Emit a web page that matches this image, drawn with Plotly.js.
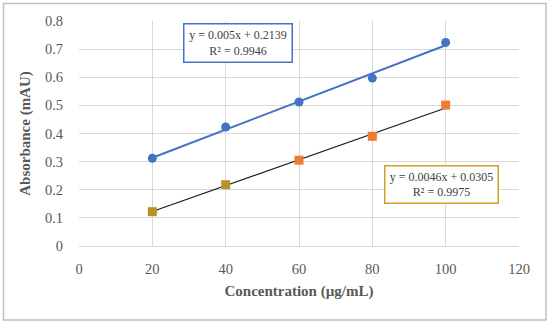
<!DOCTYPE html>
<html>
<head>
<meta charset="utf-8">
<script src="https://cdn.plot.ly/plotly-3.0.1.min.js"></script>
<style>
html,body{margin:0;padding:0;background:#fff;}
#chart{width:550px;height:324px;}
</style>
</head>
<body>
<div id="chart"></div>
<script>
// Data
const concentration = [20, 40, 60, 80, 100];
const seriesA = [0.312, 0.423, 0.512, 0.597, 0.724];
const seriesB = [0.122, 0.218, 0.305, 0.390, 0.501];
const seriesBColors = ['#B8902C', '#B8902C', '#ED7D31', '#ED7D31', '#ED7D31'];
// Trendline coefficients shown on the chart
const slopes = [0.005, 0.0046];
const intercepts = [0.2139, 0.0305];
const eqLabels = ['y = 0.005x + 0.2139<br>R² = 0.9946', 'y = 0.0046x + 0.0305<br>R² = 0.9975'];
const trendX = [20, 100];

const serif = '"Liberation Serif", "DejaVu Serif", serif';

const traces = [
  {x: trendX, y: trendX.map(v => slopes[0]*v + intercepts[0]), mode: 'lines',
   line: {color: '#4472C4', width: 2}, hoverinfo: 'skip'},
  {x: trendX, y: trendX.map(v => slopes[1]*v + intercepts[1]), mode: 'lines',
   line: {color: '#1a1a1a', width: 1.2}, hoverinfo: 'skip'},
  {x: concentration, y: seriesA, mode: 'markers',
   marker: {color: '#4472C4', size: 9, symbol: 'circle'}},
  {x: concentration, y: seriesB, mode: 'markers',
   marker: {color: seriesBColors, size: 9, symbol: 'square'}}
];

const L = 79, T = 21, W = 440, H = 225;
const px = v => (v - L) / W;
const py = v => 1 - (v - T) / H;

const layout = {
  width: 550, height: 324,
  margin: {l: L, r: 550 - L - W, t: T, b: 324 - T - H},
  paper_bgcolor: '#fff', plot_bgcolor: '#fff',
  showlegend: false,
  font: {family: serif, color: '#595959', size: 14},
  xaxis: {
    range: [0, 120], dtick: 20, tick0: 0,
    showgrid: true, gridcolor: '#d9d9d9', gridwidth: 1,
    zeroline: false, showline: true, linecolor: '#d9d9d9', linewidth: 1,
    ticks: 'outside', ticklen: 10, tickcolor: 'rgba(0,0,0,0)',
    tickfont: {family: serif, size: 14.5, color: '#595959'},
    title: {text: '<b>Concentration (µg/mL)</b>', font: {family: serif, size: 15, color: '#595959'}, standoff: 9},
    fixedrange: true
  },
  yaxis: {
    range: [0, 0.8], dtick: 0.1, tick0: 0,
    showgrid: true, gridcolor: '#d9d9d9', gridwidth: 1,
    zeroline: false, showline: false,
    ticks: 'outside', ticklen: 12, tickcolor: 'rgba(0,0,0,0)',
    tickfont: {family: serif, size: 14.5, color: '#595959'},
    title: {text: '<b>Absorbance (mAU)</b>', font: {family: serif, size: 15, color: '#595959'}, standoff: 10},
    fixedrange: true
  },
  shapes: [
    {type: 'rect', xref: 'paper', yref: 'paper',
     x0: px(3.5), x1: px(546), y0: py(3.5), y1: py(320),
     line: {color: '#bfbfbf', width: 1.5}, fillcolor: 'rgba(0,0,0,0)', layer: 'below'}
  ],
  annotations: [
    {xref: 'paper', yref: 'paper', x: px(237.5), y: py(42.5), xanchor: 'center', yanchor: 'middle',
     text: eqLabels[0], showarrow: false, align: 'center',
     font: {family: serif, size: 12, color: '#404040'},
     bordercolor: '#4472C4', borderwidth: 1.5, borderpad: 2, bgcolor: '#fff',
     width: 103, height: 33},
    {xref: 'paper', yref: 'paper', x: px(441), y: py(184), xanchor: 'center', yanchor: 'middle',
     text: eqLabels[1], showarrow: false, align: 'center',
     font: {family: serif, size: 12, color: '#404040'},
     bordercolor: '#C9A227', borderwidth: 1.5, borderpad: 2, bgcolor: '#fff',
     width: 108, height: 32}
  ]
};

Plotly.newPlot('chart', traces, layout, {displayModeBar: false, staticPlot: true});
</script>
</body>
</html>
